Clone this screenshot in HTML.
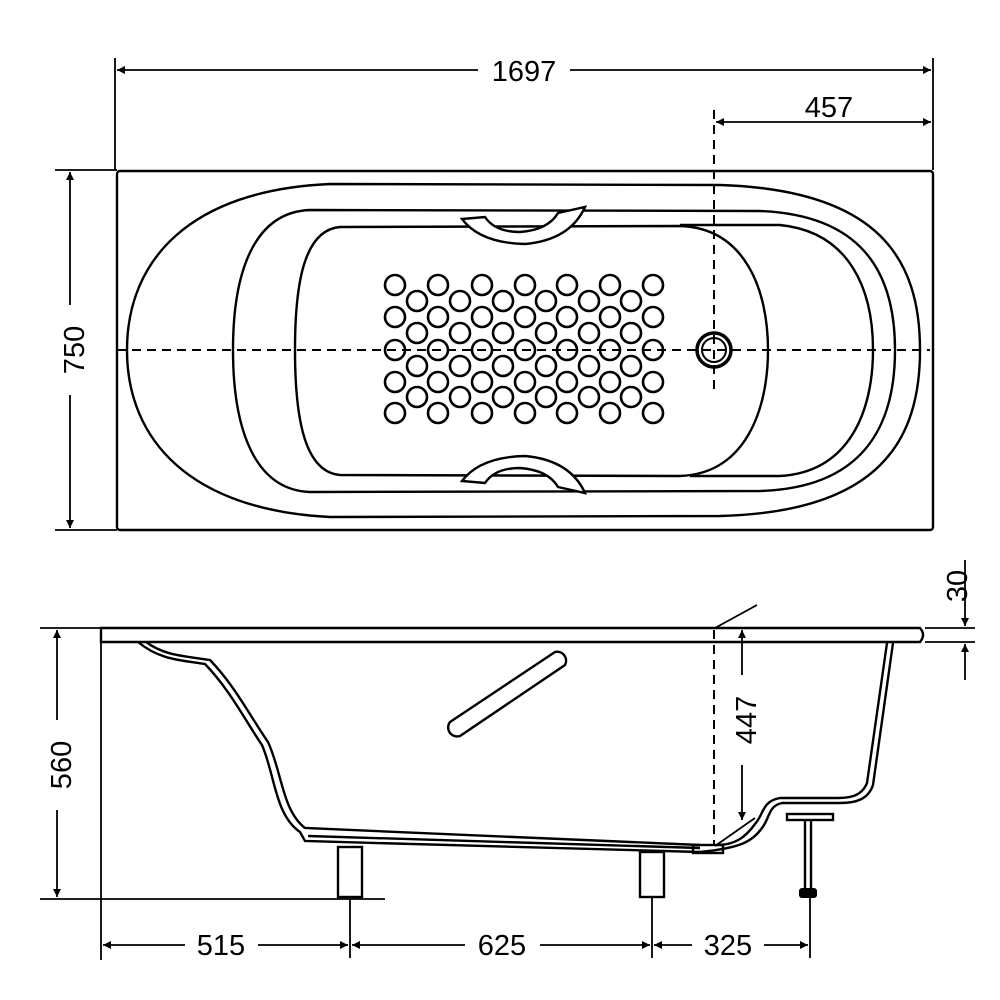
<!DOCTYPE html>
<html><head><style>html,body{margin:0;padding:0;background:#fff}svg{display:block}</style></head><body>
<svg width="1000" height="1000" viewBox="0 0 1000 1000" xmlns="http://www.w3.org/2000/svg" font-family="Liberation Sans, sans-serif">
<defs>
<marker id="a" viewBox="0 0 10 10" refX="10" refY="5" markerWidth="14" markerHeight="8" markerUnits="userSpaceOnUse" orient="auto-start-reverse"><path d="M0,0 L10,5 L0,10 Z" fill="#000"/></marker>
<g id="r1">
<circle cx="395" cy="0" r="10"/><circle cx="438" cy="0" r="10"/><circle cx="482" cy="0" r="10"/><circle cx="525" cy="0" r="10"/><circle cx="567" cy="0" r="10"/><circle cx="610" cy="0" r="10"/><circle cx="653" cy="0" r="10"/>
</g>
<g id="r2">
<circle cx="417" cy="0" r="10"/><circle cx="460" cy="0" r="10"/><circle cx="503" cy="0" r="10"/><circle cx="546" cy="0" r="10"/><circle cx="589" cy="0" r="10"/><circle cx="631" cy="0" r="10"/>
</g>
</defs>
<g fill="none" stroke="#000" stroke-width="2.4">
<!-- TOP VIEW -->
<rect x="117" y="171" width="816" height="359" rx="3"/>
<path d="M330,184 L720,185 C880,190 920,260 920,350 C920,440 880,512 720,516 L330,517 C190,510 127,440 127,350 C127,260 190,190 330,184 Z"/>
<path d="M310,210 L760,211 C860,215 895,270 895,350 C895,430 860,488 760,491 L310,492 C255,490 233,430 233,350 C233,270 255,212 310,210 Z"/>
<path d="M340,227 L680,226 C745,228 768,290 768,350 C768,410 745,474 680,476 L340,475 C305,472 295,420 295,350 C295,280 305,230 340,227 Z"/>
<path d="M680,225 L780,225 C850,232 873,290 873,350 C873,410 850,472 780,476 L690,476"/>
<path d="M462,219 L485,217 Q495,232 520,232 Q548,230 558,213 L585,207 Q570,240 525,244 Q480,243 462,219 Z" fill="#fff"/>
<path d="M462,481 L485,483 Q495,468 520,468 Q548,470 558,487 L585,493 Q570,460 525,456 Q480,457 462,481 Z" fill="#fff"/>
</g>
<g fill="none" stroke="#000" stroke-width="2.6">
<use href="#r1" y="285"/><use href="#r1" y="317"/><use href="#r1" y="350"/><use href="#r1" y="382"/><use href="#r1" y="413"/>
<use href="#r2" y="301"/><use href="#r2" y="333"/><use href="#r2" y="366"/><use href="#r2" y="397"/>
</g>
<circle cx="714" cy="350" r="17" fill="none" stroke="#000" stroke-width="3.5"/>
<circle cx="714" cy="350" r="12" fill="none" stroke="#000" stroke-width="2"/>
<g stroke="#000" stroke-width="2" stroke-dasharray="9,6" fill="none">
<line x1="117" y1="350" x2="930" y2="350"/>
<line x1="714" y1="110" x2="714" y2="395"/>
<line x1="714" y1="630" x2="714" y2="845"/>
</g>
<!-- dims top -->
<g stroke="#000" stroke-width="1.8" fill="none">
<line x1="115" y1="58" x2="115" y2="170"/>
<line x1="933" y1="58" x2="933" y2="170"/>
<line x1="117" y1="70" x2="478" y2="70" marker-start="url(#a)"/>
<line x1="570" y1="70" x2="931" y2="70" marker-end="url(#a)"/>
<line x1="716" y1="122" x2="931" y2="122" marker-start="url(#a)" marker-end="url(#a)"/>
<line x1="55" y1="170" x2="117" y2="170"/>
<line x1="55" y1="530" x2="117" y2="530"/>
<line x1="70" y1="172" x2="70" y2="305" marker-start="url(#a)"/>
<line x1="70" y1="395" x2="70" y2="528" marker-end="url(#a)"/>
</g>
<g font-size="29" fill="#000" text-anchor="middle">
<text x="524" y="81">1697</text>
<text x="829" y="117">457</text>
<text transform="translate(84,350) rotate(-90)" text-anchor="middle">750</text>
<text transform="translate(71,765) rotate(-90)">560</text>
<text transform="translate(756,720) rotate(-90)">447</text>
<text transform="translate(967,586) rotate(-90)">30</text>
<text x="221" y="955">515</text>
<text x="502" y="955">625</text>
<text x="728" y="955">325</text>
</g>
<!-- SIDE VIEW -->
<g fill="none" stroke="#000" stroke-width="2.4">
<path d="M101,628 L920,628 Q926,635 920,642 L101,642 Z"/>
<path d="M138,642 C160,660 180,660 205,664 C230,690 245,720 262,745 C275,775 275,815 300,832 L305,841 L700,852"/>
<path d="M146,642 C165,656 185,656 210,660 C235,686 250,716 268,742 C282,772 282,810 305,828 L700,845"/>
<path d="M308,836 L700,848"/>
<path d="M893,643 L873,785 C868,800 855,803 840,803 L782,803 C768,806 770,818 762,828 C752,842 740,848 700,852"/>
<path d="M887,643 L867,783 C862,796 850,798 838,798 L780,798 C762,801 764,814 755,824 C745,838 735,844 720,845"/>
<rect x="338" y="847" width="24" height="50"/>
<rect x="640" y="852" width="24" height="45"/>
<rect x="693" y="845" width="30" height="8"/>
<rect x="787" y="814" width="46" height="6"/>
<line x1="805" y1="820" x2="805" y2="888"/><line x1="811" y1="820" x2="811" y2="888"/>
<path d="M450,722 L555,652 A9,9 0 0 1 565,665 L460,736 A9,9 0 0 1 450,722 Z"/>
</g>
<rect x="799" y="888" width="18" height="10" rx="3" fill="#000"/>
<g stroke="#000" stroke-width="1.8" fill="none">
<line x1="101" y1="642" x2="101" y2="960"/>
<line x1="40" y1="628" x2="101" y2="628"/>
<line x1="40" y1="899" x2="385" y2="899"/>
<line x1="57" y1="630" x2="57" y2="720" marker-start="url(#a)"/>
<line x1="57" y1="810" x2="57" y2="897" marker-end="url(#a)"/>
<line x1="350" y1="897" x2="350" y2="958"/>
<line x1="652" y1="897" x2="652" y2="958"/>
<line x1="810" y1="898" x2="810" y2="958"/>
<line x1="103" y1="945" x2="185" y2="945" marker-start="url(#a)"/>
<line x1="258" y1="945" x2="348" y2="945" marker-end="url(#a)"/>
<line x1="352" y1="945" x2="465" y2="945" marker-start="url(#a)"/>
<line x1="540" y1="945" x2="650" y2="945" marker-end="url(#a)"/>
<line x1="654" y1="945" x2="692" y2="945" marker-start="url(#a)"/>
<line x1="764" y1="945" x2="808" y2="945" marker-end="url(#a)"/>
<line x1="715" y1="628" x2="757" y2="605"/>
<line x1="715" y1="846" x2="755" y2="818"/>
<line x1="742" y1="630" x2="742" y2="675" marker-start="url(#a)"/>
<line x1="742" y1="765" x2="742" y2="820" marker-end="url(#a)"/>
<line x1="925" y1="628" x2="975" y2="628"/>
<line x1="925" y1="642" x2="975" y2="642"/>
<line x1="965" y1="560" x2="965" y2="626" marker-end="url(#a)"/>
<line x1="965" y1="680" x2="965" y2="644" marker-end="url(#a)"/>
</g>
</svg>
</body></html>
